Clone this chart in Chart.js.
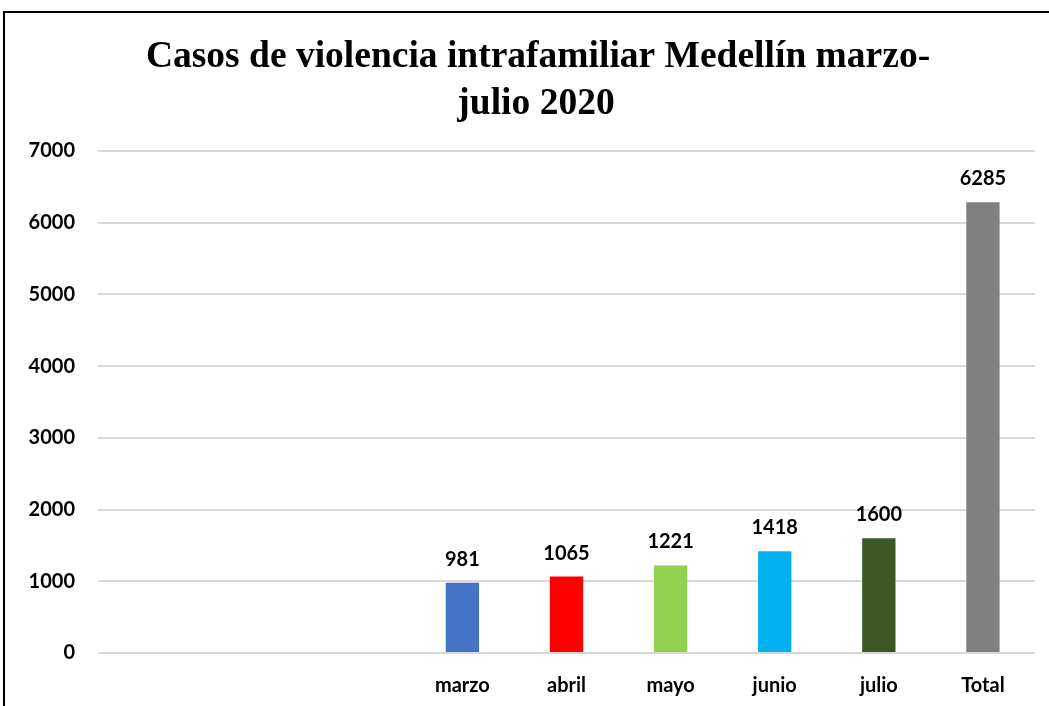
<!DOCTYPE html>
<html>
<head>
<meta charset="utf-8">
<script src="https://cdn.jsdelivr.net/npm/chart.js@4.4.1/dist/chart.umd.min.js"></script>
<style>
  html, body { margin: 0; padding: 0; background: #ffffff; overflow: hidden; }
  #wrap { position: relative; width: 1049px; height: 706px; }
  #frame { position: absolute; left: 3px; top: 11px; width: 1100px; height: 800px; border-left: 2px solid #000; border-top: 2px solid #000; }
  canvas { position: absolute; left: 0; top: 0; }
</style>
</head>
<body>
<div id="wrap">
  <div id="frame"></div>
  <canvas id="c" width="1049" height="706"></canvas>
</div>
<script>
const categories = ["", "", "", "marzo", "abril", "mayo", "junio", "julio", "Total"];
const casos = [null, null, null, 981, 1065, 1221, 1418, 1600, 6285];
const barColors = ["#4472C4", "#4472C4", "#4472C4", "#4472C4", "#FF0000", "#92D050", "#00B0F0", "#3A5724", "#808080"];
const titleLines = ["Casos de violencia intrafamiliar Medellín marzo-", "julio 2020"];
const yMin = 0, yMax = 7000, yStep = 1000;

const labelFont = { family: "Lato, 'Open Sans', sans-serif", weight: "bold", size: 20 };

const titlePlugin = {
  id: "titleText",
  afterDraw(chart) {
    const ctx = chart.ctx;
    ctx.save();
    ctx.font = "bold 37.5px 'Liberation Serif', 'Times New Roman', serif";
    ctx.fillStyle = "#000";
    ctx.textAlign = "center";
    ctx.textBaseline = "alphabetic";
    ctx.fillText(titleLines[0], 538, 67);
    ctx.fillText(titleLines[1], 536, 114);
    ctx.restore();
  }
};

const valueLabels = {
  id: "valueLabels",
  afterDatasetsDraw(chart) {
    const ctx = chart.ctx;
    const meta = chart.getDatasetMeta(0);
    ctx.save();
    ctx.font = "bold 20px Lato, 'Open Sans', sans-serif";
    ctx.fillStyle = "#000";
    ctx.textAlign = "center";
    ctx.textBaseline = "alphabetic";
    meta.data.forEach((bar, i) => {
      const v = casos[i];
      if (v === null || v === undefined) return;
      ctx.fillText(String(v), bar.x, bar.y - 17);
    });
    ctx.restore();
  }
};

new Chart(document.getElementById("c"), {
  type: "bar",
  data: {
    labels: categories,
    datasets: [{
      data: casos,
      backgroundColor: barColors,
      borderWidth: 0,
      barPercentage: 0.32,
      categoryPercentage: 1.0
    }]
  },
  options: {
    responsive: false,
    animation: false,
    layout: { padding: { left: 0, right: 14, top: 151, bottom: 9 } },
    plugins: {
      legend: { display: false },
      tooltip: { enabled: false },
      title: { display: false }
    },
    scales: {
      x: {
        afterFit(scale) { scale.height = 44; },
        grid: { display: false, drawTicks: false },
        border: { display: false },
        ticks: { color: "#000", font: labelFont, padding: 21, maxRotation: 0, autoSkip: false }
      },
      y: {
        min: yMin, max: yMax,
        afterFit(scale) { scale.width = 98; },
        grid: { color: "#D9D9D9", lineWidth: 2, drawTicks: false },
        border: { display: false },
        ticks: { stepSize: yStep, color: "#000", font: labelFont, padding: 23, callback: (v) => String(v) }
      }
    }
  },
  plugins: [valueLabels, titlePlugin]
});
</script>
</body>
</html>
